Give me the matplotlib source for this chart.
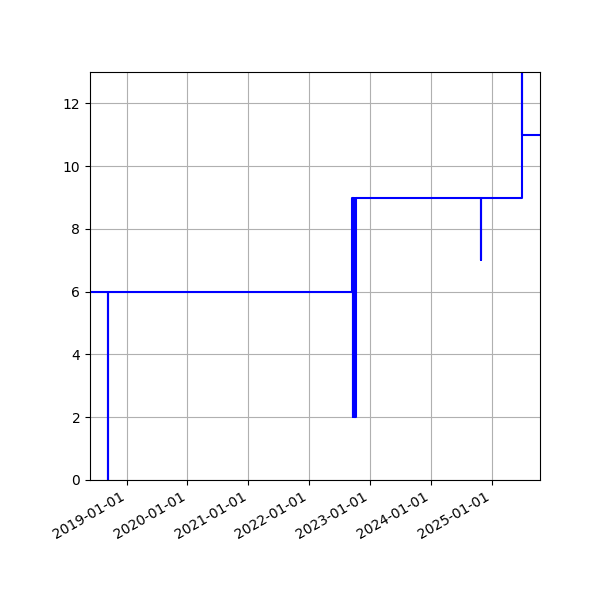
import matplotlib
matplotlib.use("Agg")
import matplotlib.pyplot as plt
import matplotlib.dates as mdates
import numpy as np
import pandas as pd

# step data (value holds until the next date)
dates = [
    "2018-05-26", "2018-09-12", "2018-09-13",
    "2022-09-14", "2022-09-19", "2022-09-23", "2022-09-27",
    "2022-10-01", "2022-10-05", "2022-10-10",
    "2024-10-28", "2024-10-30",
    "2025-07-01", "2025-07-03", "2025-10-17",
]
values = [6, 0, 6, 9, 2, 9, 2, 9, 2, 9, 7, 9, 13, 11, 11]

t = pd.to_datetime(dates)

fig, ax = plt.subplots(figsize=(6, 6), dpi=100)
ax.step(t, values, where="post", color="b", linewidth=1.5)
ax.set_xlim(t[0], t[-1])
ax.set_ylim(0, 13)
ax.xaxis.set_major_locator(mdates.YearLocator())
ax.xaxis.set_major_formatter(mdates.DateFormatter("%Y-%m-%d"))
ax.grid(True)
fig.autofmt_xdate()
fig.subplots_adjust(left=0.15, right=0.9, top=0.88, bottom=0.2)

fig.savefig("out.png")
